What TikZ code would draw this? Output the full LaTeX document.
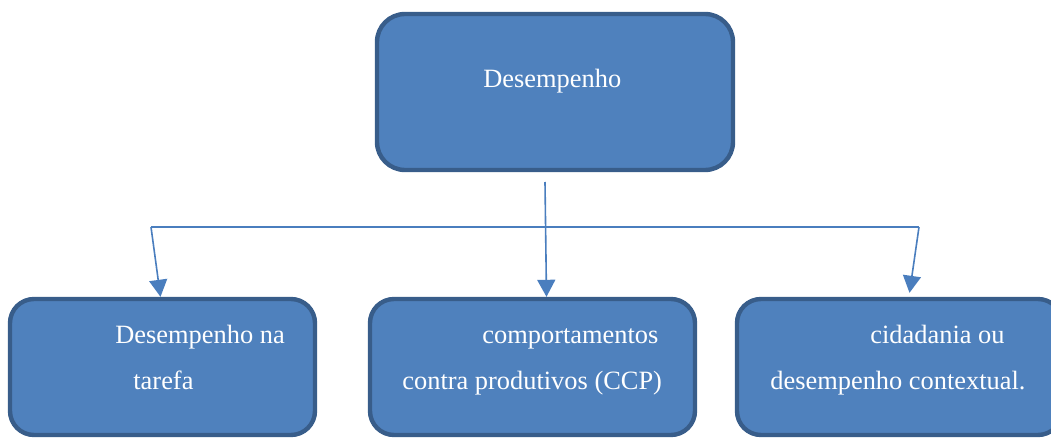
\documentclass[tikz,border=0pt]{standalone}
\usepackage{fontspec}
\setmainfont{Liberation Serif}
\usetikzlibrary{arrows.meta, positioning}

\definecolor{boxfill}{RGB}{79,129,189}
\definecolor{boxedge}{RGB}{56,93,138}
\definecolor{linkblue}{RGB}{74,126,190}

\begin{document}
\begin{tikzpicture}[x=0.5pt, y=-0.5pt,
    box/.style={draw=boxedge, fill=boxfill, line width=2.2pt, inner sep=0pt},
    boxtext/.style={text=white, anchor=base west, inner sep=0pt,
        font=\fontsize{13.2}{15}\selectfont},
    link/.style={draw=linkblue, line width=0.8pt},
    arrowlink/.style={link, -{Triangle[width=9pt, length=8.5pt]}}]
    % Fix the page size
    \useasboundingbox (0, 0) rectangle (1051, 439);

    % Boxes
    \node[box, rounded corners=14pt, minimum width=178pt, minimum height=78pt] (top) at (555, 92) {};
    \node[box, rounded corners=12pt, minimum width=152.5pt, minimum height=68pt] (task) at (162.5, 367) {};
    \node[box, rounded corners=12pt, minimum width=162.5pt, minimum height=68pt] (ccp) at (532.5, 367) {};
    \node[box, rounded corners=12pt, minimum width=162.5pt, minimum height=68pt] (civic) at (899.5, 367) {};

    % Texts
    \node[boxtext] (top-l1) at (483, 87) {Desempenho};
    \node[boxtext] (task-l1) at (115, 343) {Desempenho na};
    \node[boxtext] (task-l2) at (133, 389) {tarefa};
    \node[boxtext] (ccp-l1) at (482, 343) {comportamentos};
    \node[boxtext] (ccp-l2) at (402, 389) {contra produtivos (CCP)};
    \node[boxtext] (civic-l1) at (870, 343) {cidadania ou};
    \node[boxtext] (civic-l2) at (770, 389) {desempenho contextual.};

    % Connectors
    \coordinate (stem) at (545, 182);
    \coordinate (left-bend) at (151, 227);
    \coordinate (right-bend) at (919, 227);
    \draw[link] (left-bend) -- (right-bend);
    \draw[arrowlink] (stem) -- ([shift={(14, 0)}]ccp.north);
    \draw[arrowlink] (left-bend) -- ([shift={(-2, 0)}]task.north);
    \draw[arrowlink] (right-bend) -- ([shift={(10, -4)}]civic.north);
\end{tikzpicture}
\end{document}
